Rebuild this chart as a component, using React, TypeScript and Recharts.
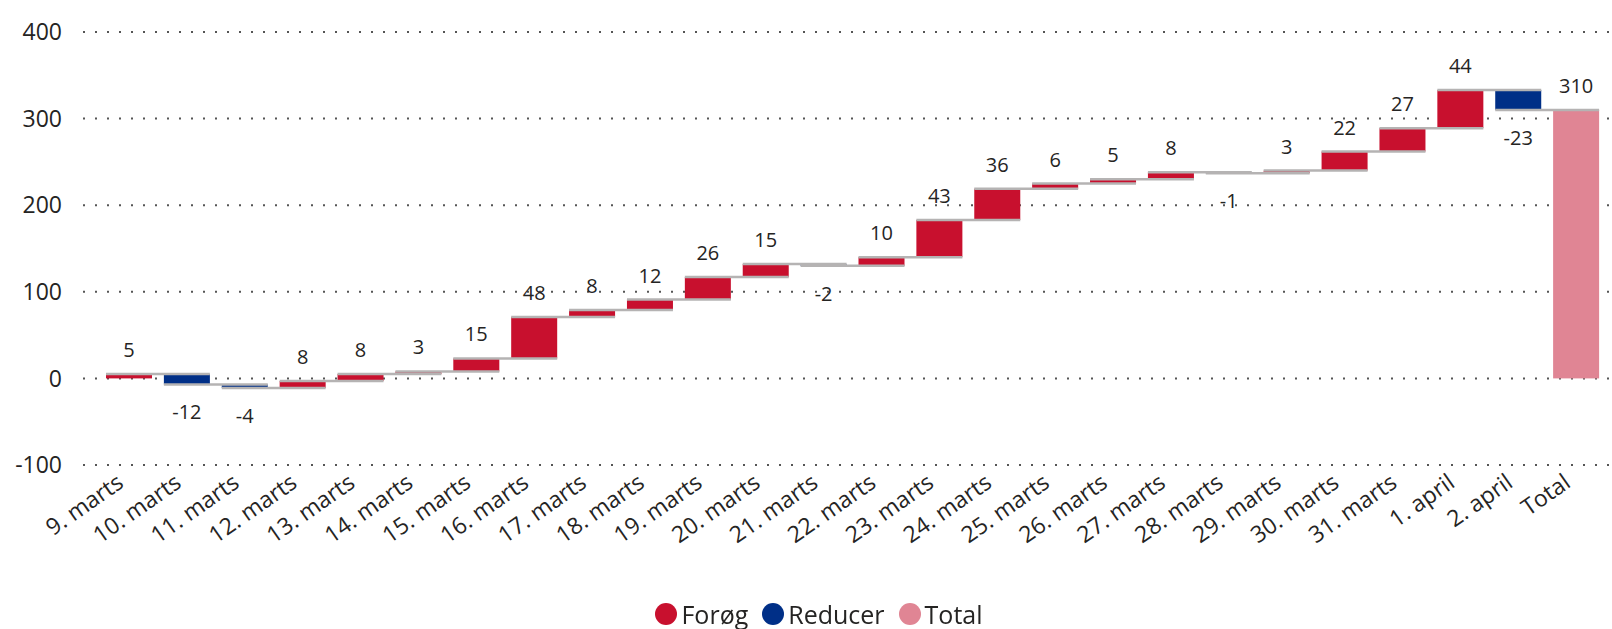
import { BarChart, Bar, XAxis, YAxis, CartesianGrid, LabelList, Legend } from 'recharts';

const categories = [
  '9. marts', '10. marts', '11. marts', '12. marts', '13. marts', '14. marts', '15. marts',
  '16. marts', '17. marts', '18. marts', '19. marts', '20. marts', '21. marts', '22. marts',
  '23. marts', '24. marts', '25. marts', '26. marts', '27. marts', '28. marts', '29. marts',
  '30. marts', '31. marts', '1. april', '2. april', 'Total',
];
const changes = [5, -12, -4, 8, 8, 3, 15, 48, 8, 12, 26, 15, -2, 10, 43, 36, 6, 5, 8, -1, 3, 22, 27, 44, -23];
const yTicks = [-100, 0, 100, 200, 300, 400];

const RED = '#C8102E';
const BLUE = '#002F87';
const PINK = '#E08594';
const GREY = '#B5B3B3';
const TEXT = '#252423';
const FONT = '"Open Sans", "Noto Sans", sans-serif';

type Row = { name: string; range: [number, number]; delta: number; kind: 'up' | 'down' | 'total' };

let acc = 0;
const rows: Row[] = categories.map((name, i) => {
  if (i === changes.length) {
    return { name, range: [0, acc], delta: acc, kind: 'total' };
  }
  const start = acc;
  acc += changes[i];
  return {
    name,
    range: [Math.min(start, acc), Math.max(start, acc)],
    delta: changes[i],
    kind: changes[i] >= 0 ? 'up' : 'down',
  };
});

// x of the first bar, so later bars can work out the band step
let firstX = 0;

const WaterfallBar = (props: any) => {
  const { x, y, width, height, index, payload } = props;
  const top = Math.min(y, y + height);
  const h = Math.abs(height);
  if (index === 0) firstX = x;
  const step = index > 0 ? (x - firstX) / index : 0;
  const fill = payload.kind === 'up' ? RED : payload.kind === 'down' ? BLUE : PINK;
  // connector sits where the previous bar ended = where this one starts
  const startY = payload.kind === 'up' ? top + h : top;
  return (
    <g>
      <rect x={x} y={top} width={width} height={Math.max(h, 1)} fill={fill} />
      {index > 0 && (
        <line x1={x - step} x2={x + width} y1={startY} y2={startY} stroke={GREY} strokeWidth={2.5} />
      )}
    </g>
  );
};

const ValueLabel = (props: any) => {
  const { x, y, width, height, value } = props;
  const top = Math.min(y, y + height);
  const bottom = top + Math.abs(height);
  const cy = value < 0 ? bottom + 28 : top - 24;
  return (
    <text x={x + width / 2} y={cy} dy="0.35em" textAnchor="middle" fontSize={20} fill={TEXT} fontFamily={FONT}>
      {value}
    </text>
  );
};

const DateTick = (props: any) => {
  const { x, y, payload } = props;
  return (
    <g transform={`translate(${x - 4},${y + 13})`}>
      <text textAnchor="end" transform="rotate(-35)" fontSize={23} fill={TEXT} fontFamily={FONT}>
        {payload.value}
      </text>
    </g>
  );
};

const legendItems = [
  { label: 'Forøg', color: RED },
  { label: 'Reducer', color: BLUE },
  { label: 'Total', color: PINK },
];

const ChartLegend = () => (
  <div style={{ display: 'flex', justifyContent: 'center', alignItems: 'center', gap: 14, height: 30, paddingLeft: 28, fontFamily: FONT, fontSize: 25, color: TEXT }}>
    {legendItems.map(it => (
      <span key={it.label} style={{ display: 'flex', alignItems: 'center' }}>
        <span style={{ width: 22, height: 22, borderRadius: 11, background: it.color, marginRight: 4 }} />
        {it.label}
      </span>
    ))}
  </div>
);

export default function App() {
  return (
    <div style={{ position: 'fixed', left: 0, top: 0, width: 1612, height: 629, background: '#fff' }}>
      <BarChart width={1612} height={629} data={rows} margin={{ top: 32, right: 2, bottom: 0, left: 0 }}>
        <CartesianGrid vertical={false} stroke="#555" strokeDasharray="2 10" strokeWidth={2} />
        <XAxis
          dataKey="name"
          interval={0}
          height={134}
          axisLine={false}
          tickLine={false}
          padding={{ left: 17, right: 5 }}
          tick={<DateTick />}
        />
        <YAxis
          width={83}
          domain={[-100, 400]}
          ticks={yTicks}
          axisLine={false}
          tickLine={false}
          tickSize={0}
          tickMargin={21}
          tick={{ fontSize: 23, fill: TEXT, fontFamily: FONT }}
        />
        <Legend verticalAlign="bottom" content={<ChartLegend />} />
        <Bar dataKey="range" barSize={46} shape={<WaterfallBar />} isAnimationActive={false}>
          <LabelList dataKey="delta" content={<ValueLabel />} />
        </Bar>
      </BarChart>
    </div>
  );
}
